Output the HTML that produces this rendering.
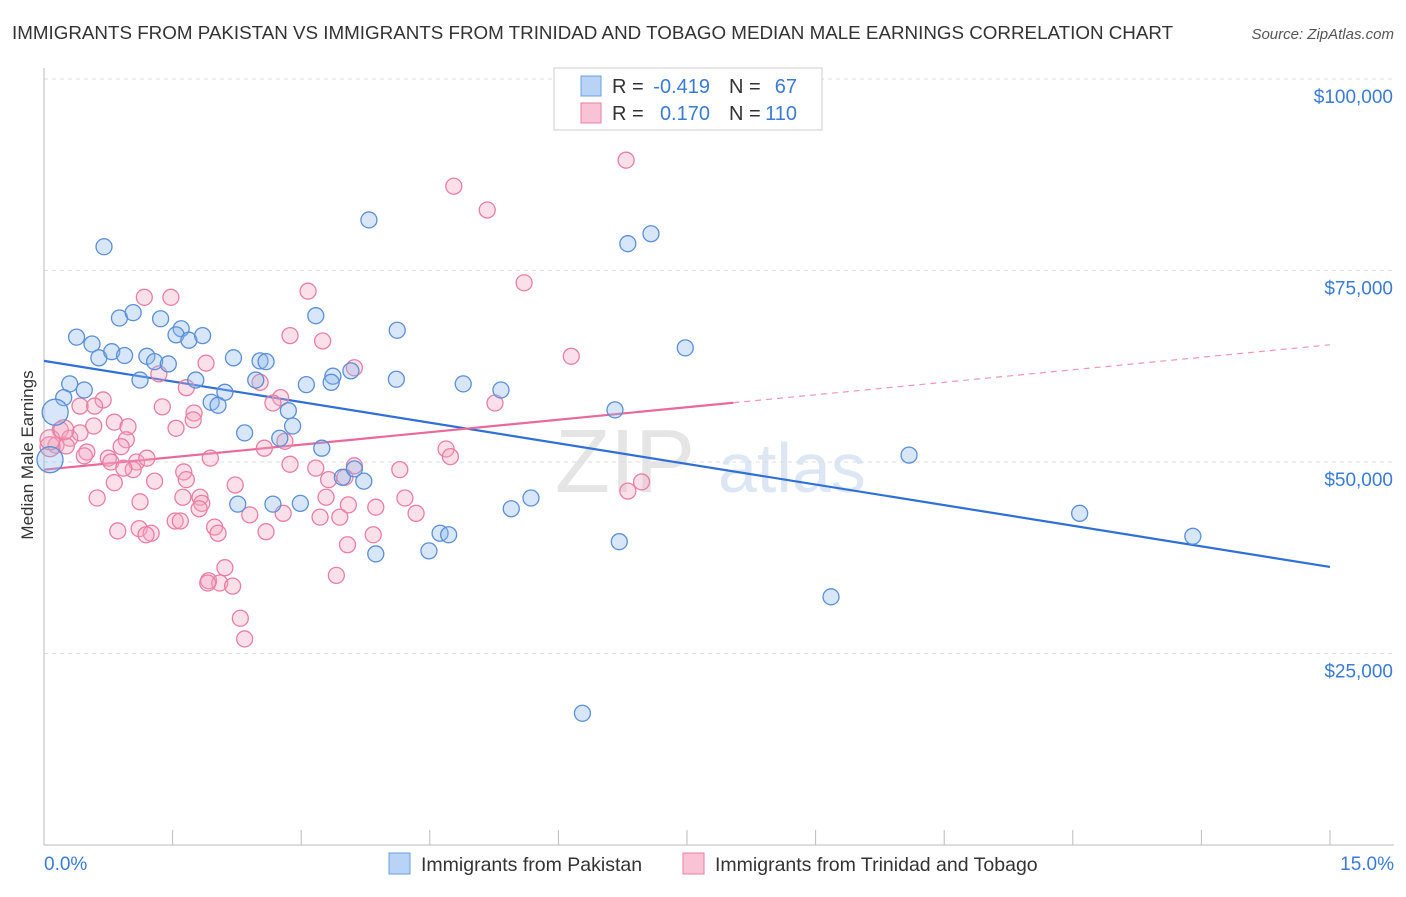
<!DOCTYPE html>
<html><head><meta charset="utf-8"><style>
body{margin:0;background:#fff;font-family:"Liberation Sans",sans-serif}
svg text{font-family:"Liberation Sans",sans-serif}
</style></head><body>
<svg id="c" width="1406" height="892" xmlns="http://www.w3.org/2000/svg">
<text x="12" y="39" font-size="18.8" fill="#333">IMMIGRANTS FROM PAKISTAN VS IMMIGRANTS FROM TRINIDAD AND TOBAGO MEDIAN MALE EARNINGS CORRELATION CHART</text>
<text x="1394" y="39" font-size="15" fill="#555" text-anchor="end" font-style="italic">Source: ZipAtlas.com</text>
<text x="33" y="455" font-size="17" fill="#333" text-anchor="middle" transform="rotate(-90 33 455)">Median Male Earnings</text>
<text x="555" y="492" font-size="90" fill="#e5e5e5" font-family="Liberation Serif">ZIP</text>
<text x="718" y="492" font-size="70" fill="#dde6f3">atlas</text>
<g id="grid"></g><g id="axes"></g><g id="trend"></g><g id="pts"></g>
<g>
<rect x="554" y="68" width="268" height="62" fill="#fff" stroke="#ccc"/>
<rect x="581" y="76" width="20" height="20" fill="#b8d3f5" stroke="#6aa0e0"/>
<rect x="581" y="103" width="20" height="20" fill="#f9c3d5" stroke="#e87fa3"/>
<text x="612" y="93" font-size="20" fill="#333">R =</text>
<text x="710" y="93" font-size="20" fill="#3a7bd5" text-anchor="end">-0.419</text>
<text x="729" y="93" font-size="20" fill="#333">N =</text>
<text x="797" y="93" font-size="20" fill="#3a7bd5" text-anchor="end">67</text>
<text x="612" y="120" font-size="20" fill="#333">R =</text>
<text x="710" y="120" font-size="20" fill="#3a7bd5" text-anchor="end">0.170</text>
<text x="729" y="120" font-size="20" fill="#333">N =</text>
<text x="797" y="120" font-size="20" fill="#3a7bd5" text-anchor="end">110</text>
</g>
<g>
<rect x="389" y="853" width="21" height="21" fill="#b8d3f5" stroke="#6aa0e0"/>
<text x="421" y="871" font-size="19.5" fill="#333">Immigrants from Pakistan</text>
<rect x="683" y="853" width="21" height="21" fill="#f9c3d5" stroke="#e87fa3"/>
<text x="715" y="871" font-size="19.5" fill="#333">Immigrants from Trinidad and Tobago</text>
</g>
</svg>
<script>
const yTicks=[25000,50000,75000,100000];
const yTickLabels=["$25,000","$50,000","$75,000","$100,000"];
const xTickLabels=["0.0%","15.0%"];
const blueX=[0.70,0.38,0.56,0.64,0.79,0.94,0.88,1.04,1.36,1.60,1.54,1.69,1.85,1.20,1.29,1.45,1.12,0.30,0.47,0.23,0.13,0.07,1.77,2.11,1.95,2.03,2.21,2.47,2.52,2.59,2.34,2.75,2.85,2.90,3.06,3.17,3.24,3.37,3.35,3.58,3.79,4.12,4.11,3.48,3.62,3.73,2.26,2.67,2.99,3.87,4.49,4.62,4.72,4.89,5.33,5.45,5.68,6.28,6.66,6.71,6.81,7.08,7.48,9.18,10.09,12.08,13.40];
const blueY=[78.1,66.3,65.4,63.6,64.4,63.9,68.8,69.5,68.7,67.4,66.6,65.9,66.5,63.8,63.1,62.8,60.7,60.2,59.4,58.4,56.5,50.3,60.7,59.1,57.8,57.4,63.6,60.7,63.2,63.1,53.8,53.1,56.7,54.7,60.1,69.1,51.8,61.2,60.4,61.9,81.6,67.2,60.8,48.0,49.1,47.5,44.5,44.5,44.6,38.0,38.4,40.7,40.5,60.2,59.4,43.9,45.3,17.2,56.8,39.6,78.5,79.8,64.9,32.4,50.9,43.3,40.3];
const pinkX=[6.79,4.78,5.17,5.60,1.17,1.48,3.08,2.87,3.25,6.15,1.89,3.62,1.34,1.66,2.52,2.76,2.67,0.69,0.59,0.42,1.38,1.75,1.74,0.82,0.58,0.98,1.54,2.81,2.57,0.96,0.90,0.19,0.30,0.14,0.26,0.42,0.50,0.75,1.08,1.20,0.78,0.47,1.04,0.93,1.63,1.94,2.87,3.17,3.62,4.15,4.69,4.74,5.26,6.81,6.97,0.82,1.29,1.66,3.32,3.51,0.62,1.12,1.62,1.82,1.84,3.29,3.55,3.87,4.21,4.34,1.81,2.79,2.40,2.23,1.53,1.59,3.22,3.45,0.86,1.11,1.25,1.19,1.99,2.03,2.59,3.84,3.54,2.11,1.92,2.05,1.91,2.20,3.41,2.29,2.34,0.07,0.07,0.23];
const pinkY=[89.4,86.0,82.9,73.4,71.5,71.5,72.3,66.5,65.8,63.8,62.9,62.3,61.5,59.7,60.4,58.4,57.7,58.1,57.3,57.3,57.2,56.4,55.5,55.2,54.7,54.6,54.4,52.7,51.8,52.9,52.0,54.2,53.1,52.2,52.1,53.8,51.3,50.5,50.0,50.5,50.0,50.8,49.0,49.2,48.7,50.5,49.7,49.2,49.5,49.0,51.7,50.7,57.7,46.2,47.4,47.3,47.5,47.7,47.7,48.0,45.3,44.8,45.4,45.4,44.6,45.4,44.4,44.1,45.3,43.3,43.9,43.3,43.1,47.0,42.3,42.3,42.8,42.8,41.0,41.3,40.7,40.5,41.5,40.7,40.9,40.5,39.2,36.2,34.5,34.2,34.2,33.8,35.2,29.6,26.9,52.0,52.9,54.2];
const blueTrend=[63.2,36.3];
const pinkTrend=[49.0,65.3];
const pinkSolidEnd=8.04;
const NS="http://www.w3.org/2000/svg";
const X=v=>44+v/15*1286;
const Y=v=>845-v/25000*191.5;
function mk(t,a,p){const e=document.createElementNS(NS,t);for(const k in a)e.setAttribute(k,a[k]);p.appendChild(e);return e;}
const g=document.getElementById('grid'),ax=document.getElementById('axes'),tr=document.getElementById('trend'),pts=document.getElementById('pts');
yTicks.forEach((t,i)=>{
 const l=mk('line',{x1:44,x2:1394,y1:Y(t),y2:Y(t),stroke:'#ddd','stroke-dasharray':'4,4'},g);
 
 
 const tx=mk('text',{x:1393,y:Y(t)+24,'font-size':19,fill:'#3a7bd5','text-anchor':'end'},g);
 tx.textContent=yTickLabels[i];
 
 
});
mk('line',{x1:44,x2:44,y1:68,y2:845,stroke:'#bbb'},ax);
mk('line',{x1:44,x2:1394,y1:845,y2:845,stroke:'#bbb'},ax);
for(let i=0;i<=10;i++){const l=mk('line',{x1:X(i*1.5),x2:X(i*1.5),y1:830,y2:845,stroke:'#bbb'},ax);
 
 }
[[0,'start',44],[1,'end',1394]].forEach(([i,a,x])=>{const t=mk('text',{x:x,y:870,'font-size':19,fill:'#3a7bd5','text-anchor':a},ax);t.textContent=xTickLabels[i];
 
 });
function dot(x,y,fill,stroke,r){const c=mk('circle',{cx:X(x),cy:Y(y*1000),r:r,fill:fill,'fill-opacity':0.35,stroke:stroke,'stroke-width':1.3},pts);return c;}
pinkX.forEach((x,i)=>{const c=dot(x,pinkY[i],'#f4a7c0','#e87fa3',i>=95?10:8);
 
 });
blueX.forEach((x,i)=>{const c=dot(x,blueY[i],'#8cb8ec','#5b8fd6',(i==20||i==21)?13:8);
 
 });
const pv=x=>pinkTrend[0]+(pinkTrend[1]-pinkTrend[0])*x/15;
let l=mk('line',{x1:X(0),y1:Y(blueTrend[0]*1000),x2:X(15),y2:Y(blueTrend[1]*1000),stroke:'#2f6fd6','stroke-width':2.2},tr);


l=mk('line',{x1:X(0),y1:Y(pv(0)*1000),x2:X(pinkSolidEnd),y2:Y(pv(pinkSolidEnd)*1000),stroke:'#e8699a','stroke-width':2.2},tr);


l=mk('line',{x1:X(pinkSolidEnd),y1:Y(pv(pinkSolidEnd)*1000),x2:X(15),y2:Y(pv(15)*1000),stroke:'#e8699a','stroke-width':1.2,'stroke-dasharray':'6,5','stroke-opacity':0.7},tr);


</script>
</body></html>
